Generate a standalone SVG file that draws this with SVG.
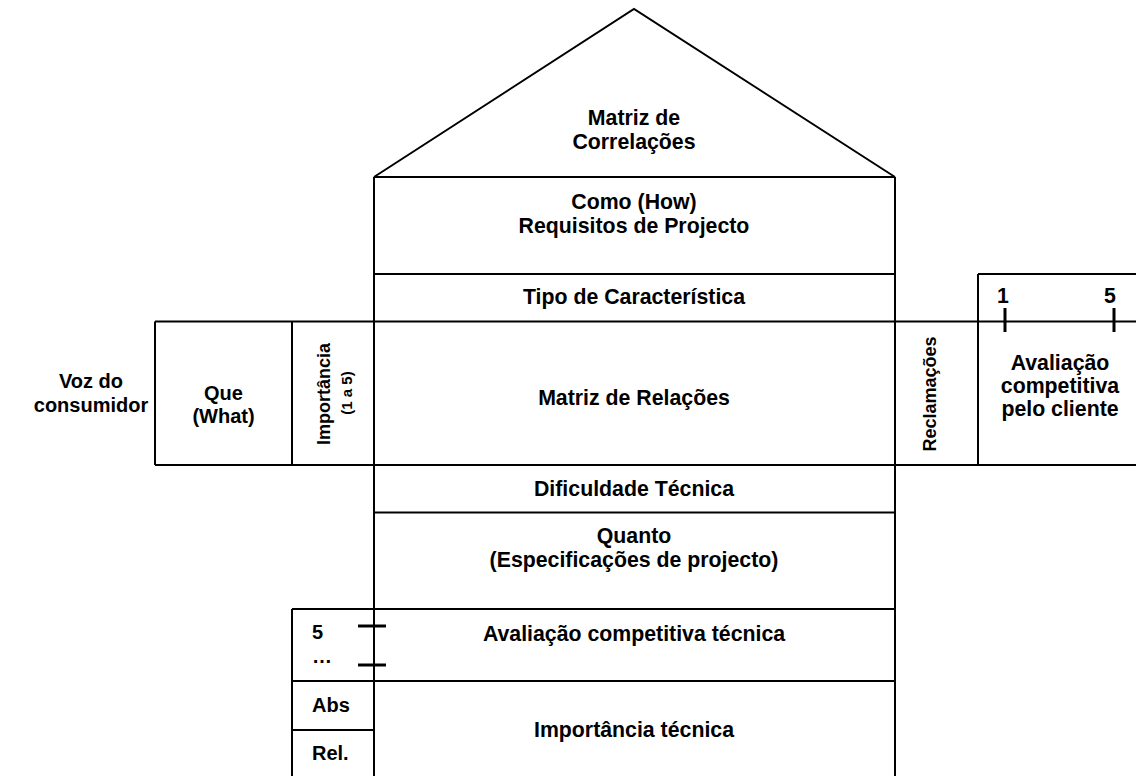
<svg xmlns="http://www.w3.org/2000/svg" width="1136" height="776" viewBox="0 0 1136 776">
  <style>
    .ln { stroke: #000; stroke-width: 2; fill: none; stroke-linecap: butt; }
    .tk { stroke: #000; stroke-width: 3; }
    .t { font-family: "Liberation Sans", Arial, sans-serif; font-weight: bold; font-size: 21.3px; fill: #000; text-anchor: middle; }
    .m { font-size: 20px; }
    .tl { text-anchor: start; }
    .v { font-size: 18px; }
    .s { font-size: 15px; }
  </style>
  <rect width="1136" height="776" fill="#fff"/>

  <!-- frame lines of the house -->
  <g id="connectors">
    <polyline class="ln" points="374,177 634,9 895,177"/>
    <line class="ln" x1="374" y1="177" x2="895" y2="177"/>
    <line class="ln" x1="374" y1="177" x2="374" y2="776"/>
    <line class="ln" x1="895" y1="177" x2="895" y2="776"/>
    <line class="ln" x1="374" y1="274" x2="895" y2="274"/>
    <line class="ln" x1="155" y1="321.5" x2="1136" y2="321.5"/>
    <line class="ln" x1="155" y1="465" x2="1136" y2="465"/>
    <line class="ln" x1="155" y1="321.5" x2="155" y2="465"/>
    <line class="ln" x1="292" y1="321.5" x2="292" y2="465"/>
    <line class="ln" x1="978" y1="274" x2="978" y2="465"/>
    <line class="ln" x1="978" y1="274" x2="1136" y2="274"/>
    <line class="ln" x1="374" y1="512.5" x2="895" y2="512.5"/>
    <line class="ln" x1="292" y1="609" x2="895" y2="609"/>
    <line class="ln" x1="292" y1="681" x2="895" y2="681"/>
    <line class="ln" x1="292" y1="730" x2="374" y2="730"/>
    <line class="ln" x1="292" y1="609" x2="292" y2="776"/>
    <!-- scale ticks -->
    <line class="tk" x1="1005" y1="308" x2="1005" y2="332"/>
    <line class="tk" x1="1114" y1="308" x2="1114" y2="332"/>
    <line class="tk" x1="358" y1="626" x2="386" y2="626"/>
    <line class="tk" x1="358" y1="665" x2="386" y2="665"/>
  </g>

  <g id="roof">
    <text class="t" x="634" y="125">Matriz de</text>
    <text class="t" x="634" y="149">Correlações</text>
  </g>
  <g id="como">
    <text class="t" x="634" y="209">Como (How)</text>
    <text class="t" x="634" y="233">Requisitos de Projecto</text>
  </g>
  <g id="tipo">
    <text class="t" x="634" y="304">Tipo de Característica</text>
  </g>
  <g id="voz">
    <text class="t m" x="91" y="388">Voz do</text>
    <text class="t m" x="91" y="412">consumidor</text>
  </g>
  <g id="que">
    <text class="t m" x="223.5" y="400">Que</text>
    <text class="t m" x="223.5" y="423">(What)</text>
  </g>
  <g id="importancia">
    <text class="t v" transform="translate(330,394) rotate(-90)">Importância</text>
    <text class="t s" transform="translate(352,393) rotate(-90)">(1 a 5)</text>
  </g>
  <g id="relacoes">
    <text class="t" x="634" y="405">Matriz de Relações</text>
  </g>
  <g id="reclamacoes">
    <text class="t v" transform="translate(936,394) rotate(-90)">Reclamações</text>
  </g>
  <g id="avaliacao-cliente">
    <text class="t" x="1003" y="303">1</text>
    <text class="t" x="1110" y="303">5</text>
    <text class="t" x="1060" y="370">Avaliação</text>
    <text class="t" x="1060" y="393">competitiva</text>
    <text class="t" x="1060" y="416">pelo cliente</text>
  </g>
  <g id="dificuldade">
    <text class="t" x="634" y="496">Dificuldade Técnica</text>
  </g>
  <g id="quanto">
    <text class="t" x="634" y="543">Quanto</text>
    <text class="t" x="634" y="567">(Especificações de projecto)</text>
  </g>
  <g id="avaliacao-tecnica">
    <text class="t tl m" x="312" y="639">5</text>
    <text class="t tl m" x="312" y="663">…</text>
    <text class="t" x="634" y="641">Avaliação competitiva técnica</text>
  </g>
  <g id="importancia-tecnica">
    <text class="t tl m" x="312" y="712">Abs</text>
    <text class="t tl m" x="312" y="760">Rel.</text>
    <text class="t" x="634" y="737">Importância técnica</text>
  </g>
</svg>
